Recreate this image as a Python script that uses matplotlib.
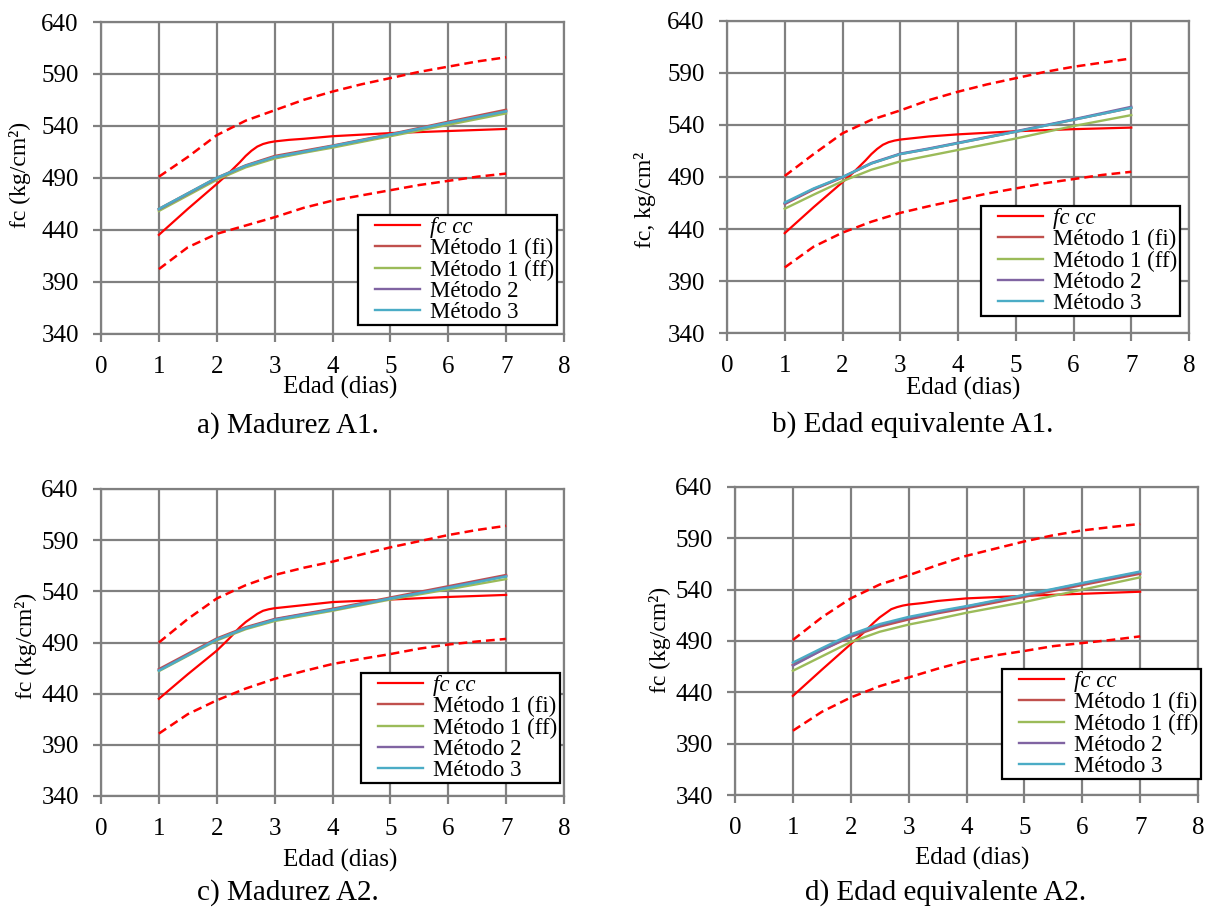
import matplotlib
matplotlib.use("Agg")
import matplotlib.pyplot as plt
from matplotlib.lines import Line2D
from matplotlib.legend_handler import HandlerLine2D

plt.rcParams['font.family'] = ['Liberation Serif', 'DejaVu Serif']

# x values (dias)
x_cc = [1, 1.5, 2, 2.2, 2.4, 2.5, 2.6, 2.7, 2.8, 2.9, 3, 3.25, 3.5, 4, 5, 6, 7]
x_met = [1, 1.5, 2, 2.5, 3, 3.5, 4, 5, 6, 7]
x_lim = [1, 1.5, 2, 2.5, 3, 3.5, 4, 4.5, 5, 5.5, 6, 6.5, 7]

# a) Madurez A1
a_cc = [435, 460, 484, 494, 505, 511, 516, 520, 522.5, 524, 525, 526.5, 527.5, 530, 533, 535, 537]
a_fi = [460, 475, 490, 502, 511, 516, 521, 532, 544, 555.5]
a_ff = [458, 473, 488, 500, 508.5, 514, 519, 530, 541, 552]
a_m2 = [459.5, 474.5, 489.5, 501.5, 510, 515, 520.5, 531.5, 543, 554]
a_m3 = [460, 475, 490, 501.5, 510, 515, 520.5, 531.5, 543, 554]
a_up = [491, 510, 531, 545, 555, 565, 573, 580, 586, 592, 597, 602, 606]
a_lo = [402, 423, 436, 444, 452, 461, 468, 473, 478, 483, 487, 491, 494]

# b) Edad equivalente A1
b_cc = [436, 461, 485, 495, 506, 512, 517, 521, 523.5, 525, 526, 527.5, 529, 531, 534, 536, 537.5]
b_fi = [464, 478, 489.5, 503, 512, 517, 522.5, 533.5, 545, 556.5]
b_ff = [459.5, 473, 486, 497, 505, 510.5, 516, 527, 539, 549.5]
b_m2 = [464.5, 478.5, 490, 503.5, 512.5, 517.5, 523, 534, 545.5, 557.5]
b_m3 = [465.5, 479, 490, 503, 512, 517, 522.5, 533.5, 545, 556.5]
b_up = [491, 512, 532, 545, 554, 564, 572, 579, 585, 591, 596, 600, 604]
b_lo = [403, 423, 436.5, 447, 455.5, 462, 468, 474, 479, 484, 488, 492, 495]

# c) Madurez A2
c_cc = [435, 459, 482, 493, 505, 510, 514, 518, 521, 522.5, 523.5, 525, 526.5, 529.5, 532, 534.5, 536.5]
c_fi = [464, 479, 494, 505, 513, 518, 523, 534, 545, 556]
c_ff = [462, 477, 492, 503, 511, 516, 521, 532, 542, 552]
c_m2 = [463, 478, 493, 504, 512.5, 517.5, 522, 533, 544, 555]
c_m3 = [462.5, 477.5, 493, 504, 512, 517, 522, 533, 543.5, 554.5]
c_up = [490, 513, 533, 546, 556, 563, 569, 576, 583, 589, 595, 600, 604]
c_lo = [401, 420, 433.5, 445, 454.5, 462, 469, 474, 478.7, 484, 488, 491, 493.5]

# d) Edad equivalente A2
d_cc = [436.5, 462, 487, 497, 508, 513, 517, 521, 523, 524.5, 525.5, 527, 529, 531.5, 534, 536, 538]
d_fi = [467, 481, 494, 504, 511, 517, 522, 533, 544.5, 555.5]
d_ff = [461, 475, 489, 499, 506, 511.5, 517.5, 528, 540, 552]
d_m2 = [466, 481, 495, 505.5, 512.5, 518, 523.5, 534.5, 546, 557]
d_m3 = [469, 483, 496.5, 506.5, 513.5, 519, 524, 535, 546.5, 557.7]
d_up = [491, 513, 531.5, 545, 554, 564, 573, 580, 587, 593, 597.7, 601, 604]
d_lo = [402.6, 421, 435, 446, 454.5, 463, 470.6, 476, 480.3, 485, 488, 491, 494.5]

labels = ["fc cc", "Método 1 (fi)", "Método 1 (ff)", "Método 2", "Método 3"]
colors = ["#FF0000", "#C0504D", "#9BBB59", "#8064A2", "#4BACC6"]
grid_c = "#808080"

W, H = 1212, 907
fig = plt.figure(figsize=(W / 100, H / 100), dpi=100)


def fx(px):
    return px / W


def fy(py):
    return 1 - py / H


def panel(rect, cc, fi, ff, m2, m3, up, lo, ylab, ylab_pos, xlab_pos, cap, cap_pos, leg_tl):
    ax = fig.add_axes(rect)
    ax.plot(x_cc, cc, color=colors[0], lw=1.6, label=labels[0], zorder=3)
    ax.plot(x_lim, up, color=colors[0], lw=1.8, ls=(0, (3.5, 2)), zorder=3)
    ax.plot(x_lim, lo, color=colors[0], lw=1.8, ls=(0, (3.5, 2)), zorder=3)
    for ys, c, lab in zip([fi, ff, m2, m3], colors[1:], labels[1:]):
        ax.plot(x_met, ys, color=c, lw=1.7, label=lab, zorder=3)
    ax.set_xlim(0, 8)
    ax.set_ylim(340, 640)
    ax.set_xticks(range(0, 9))
    ax.set_yticks(range(340, 641, 50))
    ax.grid(True, color=grid_c, lw=1.6)
    ax.set_axisbelow(True)
    for s in ax.spines.values():
        s.set_color(grid_c)
        s.set_linewidth(1.6)
    ax.tick_params(direction="out", length=6, width=1.6, color=grid_c,
                   labelsize=18, pad=10)
    ax.text(ylab_pos[0], ylab_pos[1], ylab, transform=ax.transAxes, rotation=90,
            ha="center", va="center", fontsize=17)
    ax.text(xlab_pos[0], xlab_pos[1], "Edad (dias)", transform=ax.transAxes,
            ha="center", va="center", fontsize=18)
    ax.text(cap_pos[0], cap_pos[1], cap, transform=ax.transAxes,
            ha="center", va="center", fontsize=21)
    leg = ax.legend(loc="upper left", bbox_to_anchor=(fx(leg_tl[0]), fy(leg_tl[1])),
                    bbox_transform=fig.transFigure, fontsize=16.5, frameon=True,
                    fancybox=False, edgecolor="black", framealpha=1,
                    borderpad=0.1, labelspacing=0.0, handlelength=2.6,
                    handletextpad=0.45, borderaxespad=0,
                    handler_map={Line2D: HandlerLine2D(xpad=0.65)})
    leg.get_frame().set_linewidth(1.6)
    leg.get_texts()[0].set_fontstyle("italic")
    return ax


panel([fx(101), fy(333.5), fx(463), 311.5 / H], a_cc, a_fi, a_ff, a_m2, a_m3, a_up, a_lo,
      "fc (kg/cm²)", (-0.175, 0.51), (0.516, -0.172), "a) Madurez A1.", (0.403, -0.295),
      (358, 215))
panel([fx(727), fy(333), fx(462), 312 / H], b_cc, b_fi, b_ff, b_m2, b_m3, b_up, b_lo,
      "fc, kg/cm²", (-0.177, 0.426), (0.511, -0.178), "b) Edad equivalente A1.", (0.401, -0.292),
      (981, 206))
panel([fx(101), fy(796), fx(463), 307 / H], c_cc, c_fi, c_ff, c_m2, c_m3, c_up, c_lo,
      "fc (kg/cm²)", (-0.162, 0.49), (0.516, -0.21), "c) Madurez A2.", (0.403, -0.316),
      (361, 673))
panel([fx(735), fy(795), fx(463), 308 / H], d_cc, d_fi, d_ff, d_m2, d_m3, d_up, d_lo,
      "fc (kg/cm²)", (-0.162, 0.503), (0.513, -0.205), "d) Edad equivalente A2.", (0.454, -0.318),
      (1002, 669))

fig.savefig("out.png", dpi=100)
